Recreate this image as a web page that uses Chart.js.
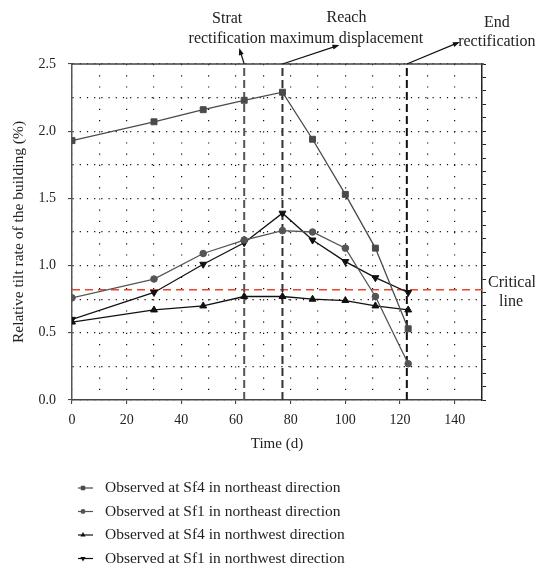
<!DOCTYPE html>
<html>
<head>
<meta charset="utf-8">
<script src="https://cdn.jsdelivr.net/npm/chart.js@4.4.1/dist/chart.umd.min.js"></script>
<style>
  html, body { margin: 0; padding: 0; background: #fff; }
  #wrap { width: 535px; height: 569px; }
</style>
</head>
<body>
<div id="wrap"><canvas id="tiltChart" width="535" height="569"></canvas></div>
<script>
// observation days and tilt rates (%)
const days = [0, 30, 48, 63, 77, 88, 100, 111, 123];
const sf4Northeast = [1.93, 2.07, 2.16, 2.23, 2.29, 1.94, 1.53, 1.13, 0.53];
const sf1Northeast = [0.76, 0.90, 1.09, 1.19, 1.26, 1.25, 1.13, 0.77, 0.27];
const sf4Northwest = [0.58, 0.67, 0.70, 0.77, 0.77, 0.75, 0.74, 0.70, 0.67];
const sf1Northwest = [0.60, 0.80, 1.01, 1.17, 1.39, 1.19, 1.03, 0.91, 0.80];

const seriesLabels = [
    'Observed at Sf4 in northeast direction',
    'Observed at Sf1 in northeast direction',
    'Observed at Sf4 in northwest direction',
    'Observed at Sf1 in northwest direction'
];

const criticalRate = 0.82;
const stageDays = [63, 77, 122.5];
const stageText = [['Strat', 'rectification'], ['Reach', 'maximum displacement'], ['End', 'rectification']];

const SERIF = "'Liberation Serif', 'Times New Roman', serif";

const toPoints = vals => days.map((d, i) => ({ x: d, y: vals[i] }));

function series(label, vals, color, style, radius, rotation) {
    return {
        label,
        data: toPoints(vals),
        borderColor: color,
        backgroundColor: color,
        borderWidth: 1.3,
        pointStyle: style,
        pointRadius: radius,
        pointRotation: rotation || 0,
        pointBorderWidth: 1,
        tension: 0,
        order: 0
    };
}

function stageLine(day, color) {
    return {
        label: 'stage',
        data: [{ x: day, y: 0 }, { x: day, y: 2.5 }],
        borderColor: color,
        borderWidth: 2,
        borderDash: [8, 4],
        pointRadius: 0,
        order: 5
    };
}

const datasets = [
    series(seriesLabels[0], sf4Northeast, '#4a4a4a', 'rect', 4.2),
    series(seriesLabels[1], sf1Northeast, '#555555', 'circle', 3.3),
    series(seriesLabels[2], sf4Northwest, '#111111', 'triangle', 4),
    series(seriesLabels[3], sf1Northwest, '#111111', 'triangle', 4, 180),
    {
        label: 'critical',
        data: [{ x: 0, y: criticalRate }, { x: 150, y: criticalRate }],
        borderColor: '#e5472f',
        borderWidth: 1.4,
        borderDash: [8, 5],
        pointRadius: 0,
        order: 6
    },
    stageLine(stageDays[0], '#555555'),
    stageLine(stageDays[1], '#333333'),
    stageLine(stageDays[2], '#111111')
];

function drawMarker(ctx, style, rotation, x, y, r) {
    ctx.beginPath();
    if (style === 'rect') {
        const s = r * Math.SQRT1_2;
        ctx.rect(x - s, y - s, 2 * s, 2 * s);
    } else if (style === 'circle') {
        ctx.arc(x, y, r, 0, Math.PI * 2);
    } else {
        const dir = rotation === 180 ? -1 : 1;
        ctx.moveTo(x, y - dir * r);
        ctx.lineTo(x - r * 0.87, y + dir * r * 0.5);
        ctx.lineTo(x + r * 0.87, y + dir * r * 0.5);
        ctx.closePath();
    }
    ctx.fill();
}

function arrow(ctx, x1, y1, x2, y2) {
    const ang = Math.atan2(y2 - y1, x2 - x1);
    ctx.beginPath();
    ctx.moveTo(x1, y1);
    ctx.lineTo(x2 - Math.cos(ang) * 5, y2 - Math.sin(ang) * 5);
    ctx.stroke();
    ctx.beginPath();
    ctx.moveTo(x2, y2);
    ctx.lineTo(x2 - 7 * Math.cos(ang) + 2.5 * Math.sin(ang), y2 - 7 * Math.sin(ang) - 2.5 * Math.cos(ang));
    ctx.lineTo(x2 - 7 * Math.cos(ang) - 2.5 * Math.sin(ang), y2 - 7 * Math.sin(ang) + 2.5 * Math.cos(ang));
    ctx.closePath();
    ctx.fill();
}

// frame top, stage notes, critical-line note and legend
const annotations = {
    id: 'annotations',
    afterDraw(chart) {
        const { ctx, chartArea: a, scales: { x, y } } = chart;
        ctx.save();

        ctx.strokeStyle = '#444';
        ctx.lineWidth = 1.5;
        ctx.beginPath();
        ctx.moveTo(a.left, a.top);
        ctx.lineTo(a.right + 2, a.top);
        ctx.stroke();

        ctx.font = '16px ' + SERIF;
        ctx.fillStyle = '#222';
        ctx.strokeStyle = '#111';
        ctx.lineWidth = 1.2;
        ctx.textAlign = 'center';
        ctx.textBaseline = 'middle';

        // text offsets and arrow tips, relative to each stage line's top
        const notes = [
            { dx: -17, ty: [-45, -25], tip: [-5, -16] },
            { dx: 64, ty: [-46, -25], tip: [57, -19] },
            { dx: 90, ty: [-41, -22], tip: [53, -22] }
        ];
        stageDays.forEach((d, i) => {
            const px = x.getPixelForValue(d);
            const n = notes[i];
            ctx.fillStyle = '#222';
            ctx.fillText(stageText[i][0], px + n.dx, a.top + n.ty[0]);
            ctx.fillText(stageText[i][1], px + n.dx, a.top + n.ty[1]);
            ctx.fillStyle = '#111';
            arrow(ctx, px, a.top, px + n.tip[0], a.top + n.tip[1]);
        });

        const cy = y.getPixelForValue(criticalRate);
        ctx.fillStyle = '#222';
        ctx.fillText('Critical', a.right + 30, cy - 7);
        ctx.fillText('line', a.right + 29, cy + 12);

        // legend rows under the plot
        ctx.textAlign = 'left';
        ctx.font = '15.5px ' + SERIF;
        seriesLabels.forEach((label, i) => {
            const ds = chart.data.datasets[i];
            const ly = 488 + i * 23.5;
            ctx.strokeStyle = ds.borderColor;
            ctx.fillStyle = ds.borderColor;
            ctx.lineWidth = 1.2;
            ctx.beginPath();
            ctx.moveTo(78, ly);
            ctx.lineTo(93, ly);
            ctx.stroke();
            drawMarker(ctx, ds.pointStyle, ds.pointRotation, 83, ly, ds.pointRadius * 0.75);
            ctx.fillStyle = '#222';
            ctx.fillText(label, 105, ly);
        });

        ctx.restore();
    }
};

new Chart(document.getElementById('tiltChart'), {
    type: 'line',
    data: { datasets },
    plugins: [annotations],
    options: {
        responsive: false,
        animation: false,
        layout: { padding: { top: 64, left: 0, right: 0, bottom: 116 } },
        plugins: { legend: { display: false }, tooltip: { enabled: false } },
        scales: {
            x: {
                type: 'linear',
                min: 0,
                max: 150,
                afterFit: s => { s.height = 53; },
                ticks: {
                    stepSize: 10,
                    autoSkip: false,
                    maxRotation: 0,
                    padding: 8,
                    color: '#222',
                    font: { family: SERIF, size: 14 },
                    callback: v => (v % 20 === 0 && v < 150 ? v : '')
                },
                grid: {
                    color: '#111',
                    lineWidth: 1.2,
                    tickLength: 4,
                    tickWidth: 1,
                    tickBorderDash: [],
                    tickColor: c => (c.tick && c.tick.value % 20 === 0 ? '#333' : 'rgba(0,0,0,0)')
                },
                border: { color: '#444', width: 1.5, dash: [1.2, 10] },
                title: {
                    display: true,
                    text: 'Time (d)',
                    color: '#222',
                    padding: { top: 0, bottom: 0 },
                    font: { family: SERIF, size: 15 }
                }
            },
            y: {
                min: 0,
                max: 2.5,
                afterFit: s => { s.width = 72; },
                ticks: {
                    stepSize: 0.25,
                    autoSkip: false,
                    padding: 12,
                    color: '#222',
                    font: { family: SERIF, size: 14 },
                    callback: v => (Math.abs(v * 2 - Math.round(v * 2)) < 1e-6 ? v.toFixed(1) : '')
                },
                grid: {
                    color: '#111',
                    lineWidth: 1.2,
                    tickLength: 4,
                    tickWidth: 1,
                    tickBorderDash: [],
                    tickColor: c => (c.tick && Math.abs(c.tick.value * 2 - Math.round(c.tick.value * 2)) < 1e-6 ? '#333' : 'rgba(0,0,0,0)')
                },
                border: { color: '#555', width: 1.5, dash: [1.2, 6] },
                title: {
                    display: true,
                    text: 'Relative tilt rate of the building (%)',
                    color: '#222',
                    padding: { top: 10, bottom: 0 },
                    font: { family: SERIF, size: 15.5 }
                }
            },
            yRight: {
                position: 'right',
                min: 0,
                max: 2.5,
                afterFit: s => { s.width = 53; },
                ticks: { stepSize: 0.1, display: false },
                grid: { drawOnChartArea: false, tickLength: 4, color: '#222', tickBorderDash: [] },
                border: { color: '#222', width: 1.5 }
            }
        }
    }
});
</script>
</body>
</html>
